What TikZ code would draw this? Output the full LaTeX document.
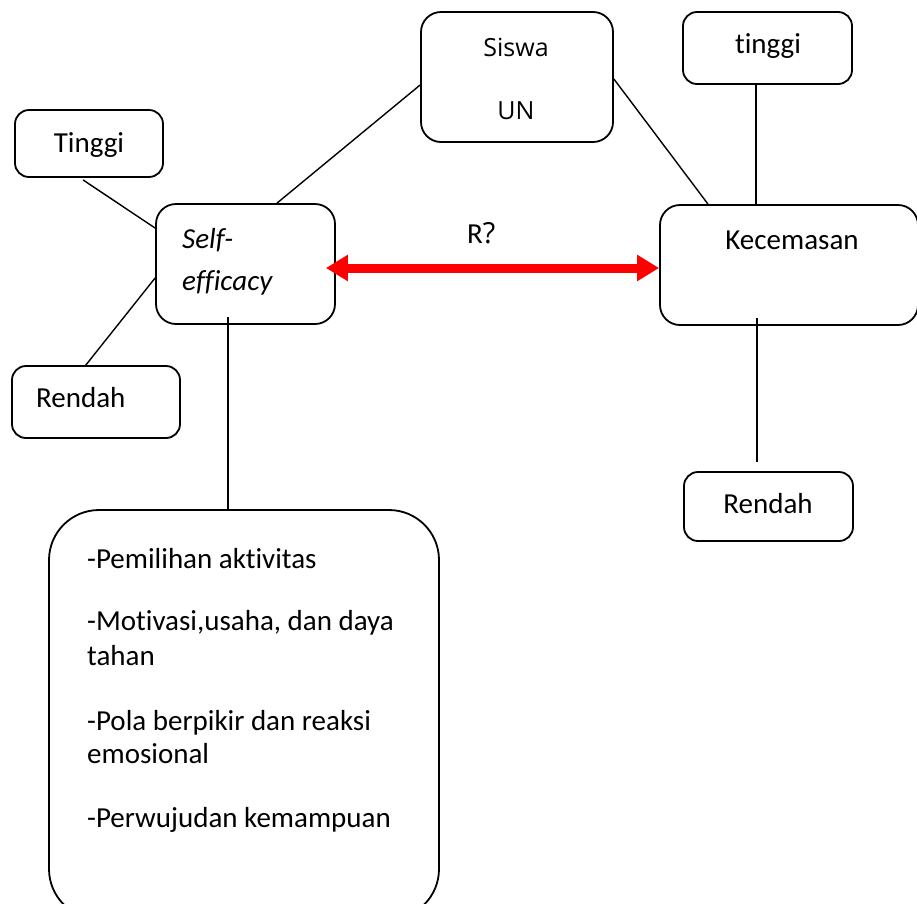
\documentclass[tikz,border=0pt]{standalone}
\usepackage{fontspec}
\setmainfont{Carlito}[Ligatures=NoCommon]
\newfontfamily\opensans{Open Sans}
\usetikzlibrary{arrows.meta,calc}

\tikzset{
  kotak/.style={draw, line width=1.8pt, rounded corners=14pt, inner sep=0pt},
  teks/.style={font=\fontsize{29}{35}\selectfont, inner sep=0pt, anchor=base},
  garis/.style={line width=1.4pt},
  panah/.style={red, line width=9pt, {Triangle[length=22pt,width=25pt]}-{Triangle[length=22pt,width=25pt]}}
}

\begin{document}
\begin{tikzpicture}[x=1pt,y=-1pt]
        \useasboundingbox (0,0) rectangle (917,903);
        \clip (0,0) rectangle (917,903);

        % Kotak-kotak
        \node[kotak, rounded corners=20pt, minimum width=192pt, minimum height=130pt] (siswa) at (517,77) {};
        \node[kotak, minimum width=169pt, minimum height=72pt] (tinggiR) at (767.5,48) {};
        \node[kotak, rounded corners=20pt, minimum width=258pt, minimum height=120pt] (kec) at (789,265) {};
        \node[kotak, minimum width=169pt, minimum height=69pt] (rendahR) at (768.5,506.5) {};
        \node[kotak, minimum width=148pt, minimum height=67pt] (tinggiL) at (89,143.5) {};
        \node[kotak, rounded corners=20pt, minimum width=179pt, minimum height=120pt] (self) at (245.5,264) {};
        \node[kotak, minimum width=168pt, minimum height=72pt] (rendahL) at (96,402) {};
        \node[kotak, rounded corners=50pt, minimum width=390pt, minimum height=409pt] (aspek) at (244,714.5) {};

        % Teks di dalam kotak
        \node[teks, font=\opensans\fontsize{25}{30}\selectfont] (tSiswa) at (516,56) {Siswa};
        \node[teks, font=\opensans\fontsize{25}{30}\selectfont] (tUN) at (516,119) {UN};
        \node[teks] (tTinggiR) at (768,53) {tinggi};
        \node[teks] (tKec) at (792,249) {Kecemasan};
        \node[teks] (tRendahR) at (768,513) {Rendah};
        \node[teks] (tTinggiL) at (89,152) {Tinggi};
        \node[teks, anchor=base west] (tSelf) at (182,248) {\itshape Self-};
        \node[teks, anchor=base west] (tEff) at (182,290) {\itshape efficacy};
        \node[teks, anchor=base west] (tRendahL) at (36,407) {Rendah};

        % Daftar aspek
        \node[teks, anchor=base west] (a1) at (87,568) {-Pemilihan aktivitas};
        \node[teks, anchor=base west] (a2) at (87,630) {-Motivasi,usaha, dan daya};
        \node[teks, anchor=base west] (a3) at (87,665) {tahan};
        \node[teks, anchor=base west] (a4) at (87,730) {-Pola berpikir dan reaksi};
        \node[teks, anchor=base west] (a5) at (87,763) {emosional};
        \node[teks, anchor=base west] (a6) at (87,827) {-Perwujudan kemampuan};

        % Garis penghubung
        \draw[garis] ($(tinggiL.south)+(-6,2)$) -- ($(self.west)+(0,-36)$);
        \draw[garis] ($(self.west)+(0,14)$) -- ($(rendahL.north)+(-11,1)$);
        \draw[garis] ($(self.north)+(31.5,0)$) -- ($(siswa.west)+(0,8)$);
        \draw[garis] ($(siswa.east)+(0,2)$) -- ($(kec.north)+(-81,0)$);
        \draw[garis] ($(tinggiR.south)+(-11.5,0)$) -- ($(kec.north)+(-33,0)$);
        \draw[garis] ($(kec.south)+(-32,-8)$) -- ($(rendahR.north)+(-11.5,-9)$);
        \draw[garis] ($(self.south)+(-17.5,-8)$) -- ($(aspek.north)+(-16,0)$);

        % Panah hubungan
        \draw[panah] ($(self.east)+(-10,4)$) -- ($(kec.west)+(0,3)$);
        \node[teks, anchor=base west] (tR) at (467,243) {R{\opensans ?}};
\end{tikzpicture}
\end{document}
